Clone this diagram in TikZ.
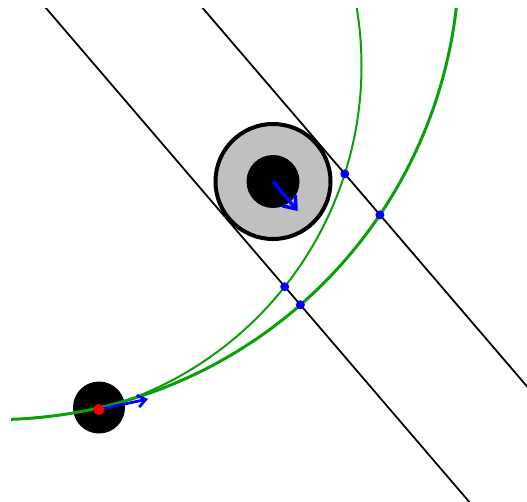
\documentclass[tikz,border=0pt]{standalone}
\usetikzlibrary{arrows.meta,calc,intersections}
\definecolor{orbitgreen}{RGB}{10,160,10}
\definecolor{ringgray}{RGB}{192,192,192}

\begin{document}
\begin{tikzpicture}[x=0.02cm, y=-0.02cm,
  tangent/.style={draw=black, line width=0.035cm},
  orbit/.style={draw=orbitgreen, line width=0.04cm},
  bigorbit/.style={draw=orbitgreen, line width=0.06cm},
  spin/.style={draw=blue, line width=0.07cm,
               -{Straight Barb[length=0.22cm,width=0.34cm]}},
  push/.style={draw=blue, line width=0.055cm,
               -{Straight Barb[length=0.16cm,width=0.24cm]}},
  crossing/.style={fill=blue},
]
  \useasboundingbox (0,0) rectangle (527,501);

  \coordinate (ring) at (273,181.5);
  \coordinate (disc) at (99,407.5);
  \coordinate (body) at (99,409.5);
  \coordinate (innerc) at (6,66);
  \coordinate (outerc) at (-5.2,-44.9);
  \coordinate (ringtip) at ($(ring)+(50:38.5)$);
  \coordinate (bodytip) at (148,399);

  \begin{scope}
    \clip (0,8.5) rectangle (527,501);

    % tangent lines along the ring
    \coordinate (l1a) at ($(ring)+(139.4:59.5)+(229.4:400)$);
    \coordinate (l1b) at ($(ring)+(139.4:59.5)+(49.4:500)$);
    \coordinate (l2a) at ($(ring)+(-40.6:59.5)+(229.4:400)$);
    \coordinate (l2b) at ($(ring)+(-40.6:59.5)+(49.4:500)$);
    \draw[tangent, name path=line1] (l1a) -- (l1b);
    \draw[tangent, name path=line2] (l2a) -- (l2b);

    % bodies
    \fill (disc) circle (26);
    \draw[line width=0.08cm, fill=ringgray] (ring) circle (57.5);
    \fill (ring) circle (26.5);

    % orbits
    \draw[orbit, name path=innerorbit]
      ($(innerc)+(75:355.5)$) arc[start angle=75, end angle=-25, radius=355.5];
    \draw[bigorbit, name path=outerorbit]
      ($(outerc)+(88:464.5)$) arc[start angle=88, end angle=-5, radius=464.5];

    % velocities
    \draw[spin] (ring) -- (ringtip);
    \draw[push] (body) -- (bodytip);
    \fill[red] (body) circle (5.5);

    % crossings
    \path[name intersections={of=line1 and innerorbit, by=c1}];
    \path[name intersections={of=line1 and outerorbit, by=c2}];
    \path[name intersections={of=line2 and innerorbit, by=c3}];
    \path[name intersections={of=line2 and outerorbit, by=c4}];
    \foreach \c in {c1,c2,c3,c4}
      \fill[crossing] (\c) circle (4.5);
  \end{scope}

\end{tikzpicture}
\end{document}
